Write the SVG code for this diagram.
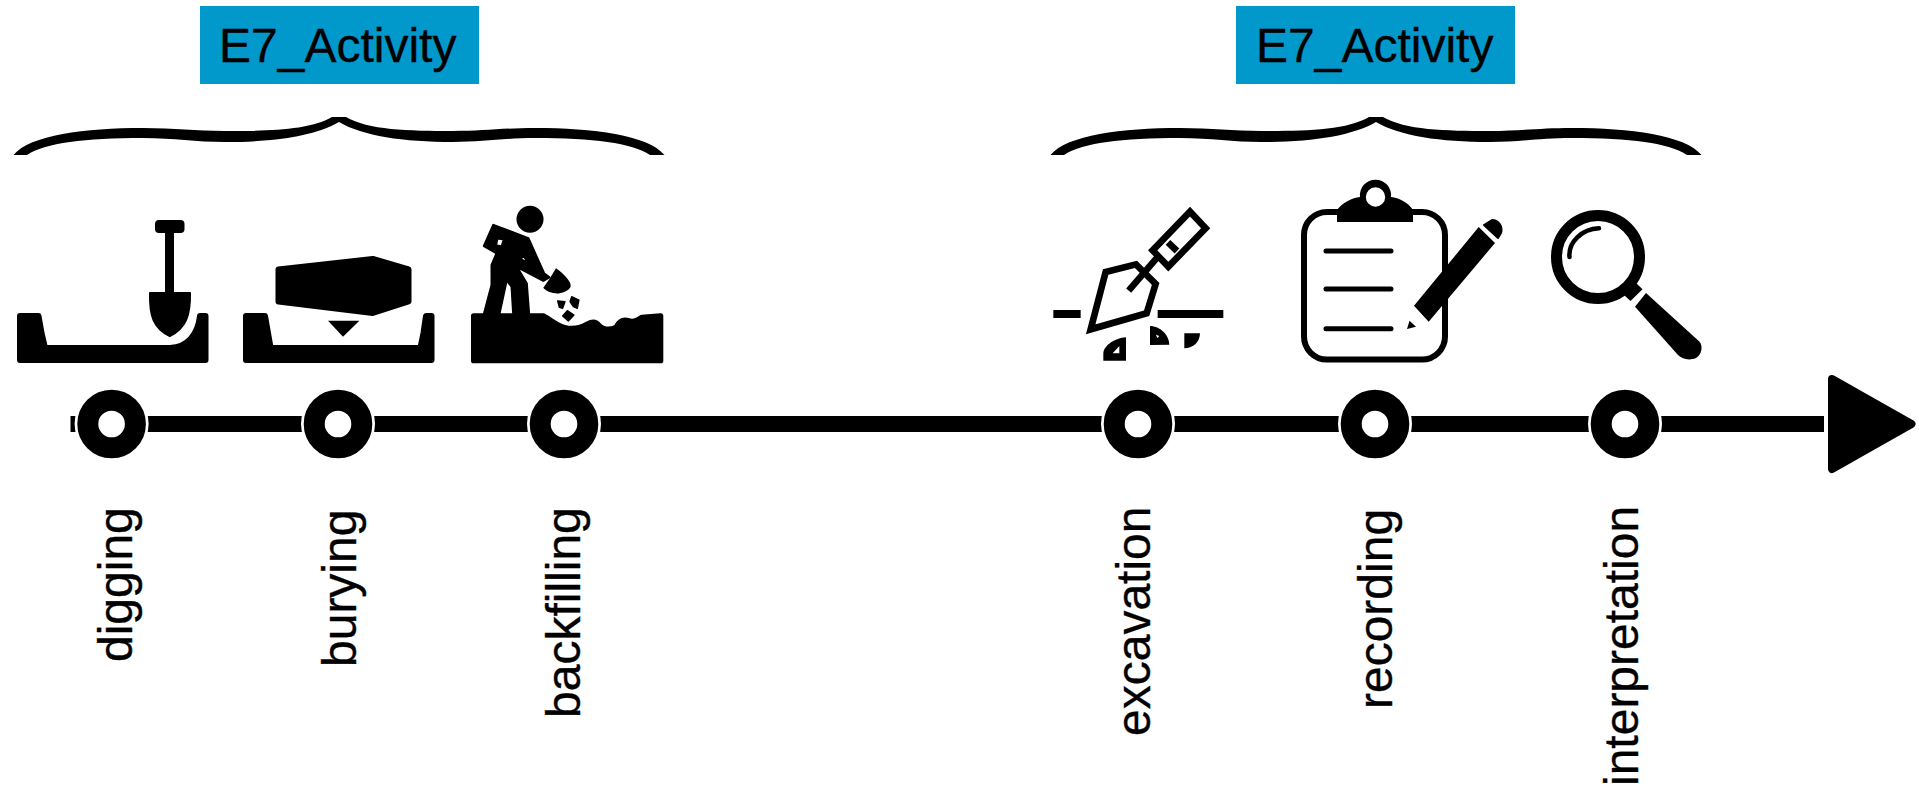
<svg xmlns="http://www.w3.org/2000/svg" width="1919" height="789" viewBox="0 0 1919 789">
<style>
text{font-family:"Liberation Sans",Arial,sans-serif;font-size:48px;fill:#000;stroke:#000;stroke-width:.35}
.band{fill:#0198cb}
.ic{fill:#000;stroke:#000;stroke-width:2;stroke-linejoin:round}
.blk{fill:#000;stroke:#000;stroke-width:6;stroke-linejoin:round}
.ln{fill:none;stroke:#000;stroke-linecap:butt;stroke-linejoin:miter;stroke-miterlimit:10}
.rd{fill:none;stroke:#000;stroke-linecap:round}
.timeline{stroke:#000;stroke-width:16;fill:none}
.ring{fill:#fff;stroke:#000;stroke-width:21}
.halo{fill:#fff}
</style>
<defs>
<path id="brace" d="M13.500 155C30 135 85 128 143 128C175 128 195 131 225 131C270 131 310 130 332 117L346 117C368 130 408 131 453 131C483 131 503 128 535 128C593 128 648 135 664.500 155L650 155C632 143 593 138 535 138C503 138 483 142 453 142C403 142 363 136 339 122C315 136 275 142 225 142C195 142 175 138 143 138C85 138 45 143 27 155Z"/>
<g id="dot"><circle r="37" class="halo"/><circle r="23.800" class="ring"/></g>
<marker id="head" markerUnits="userSpaceOnUse" markerWidth="88" markerHeight="100" viewBox="0 0 88 100" refX="-4" refY="50" orient="auto"><path d="M4 5L83.500 50L4 95Z" fill="#000" stroke="#000" stroke-width="8" stroke-linejoin="round"/></marker>
</defs>
<rect width="1919" height="789" fill="#fff"/>
<g id="connectors">
<line class="timeline" x1="70.500" y1="424" x2="1824" y2="424" marker-end="url(#head)"/>
</g>
<g id="group-left">
<rect class="band" x="200" y="6" width="279" height="78"/>
<text x="219" y="62">E7_Activity</text>
<use href="#brace"/>
</g>
<g id="group-right">
<rect class="band" x="1236" y="6" width="279" height="78"/>
<text x="1256" y="62">E7_Activity</text>
<use href="#brace" x="1037"/>
</g>
<g id="digging">
<path class="blk" d="M20 316L38.500 316L41.500 333L45 348L170 348C188 347 198 334 200 316L205.500 316L205.500 360L20 360Z"/>
<rect x="155" y="220" width="29.500" height="13" rx="4" fill="#000"/>
<rect x="165" y="232" width="9" height="60" fill="#000"/>
<path class="ic" d="M150 293L190 293C190.500 315 186 328 169.800 336C153 328 149.500 315 150 293Z"/>
<use href="#dot" x="111.600" y="424"/>
<text transform="translate(132 662) rotate(-90)">digging</text>
</g>
<g id="burying">
<path class="blk" d="M246 316L265 316L268 333L270.600 348L420.400 348L423.500 333L426 316L431.500 316L431.500 360L246 360Z"/>
<path class="blk" d="M278.500 269.500L372.800 259L408.500 269.500L408.500 301.500L372.800 313L278.500 301.500Z"/>
<path d="M328 320.700L359.400 320.700L343 336.700Z" fill="#000"/>
<use href="#dot" x="338" y="424"/>
<text transform="translate(356 667) rotate(-90)">burying</text>
</g>
<g id="backfilling">
<circle cx="530" cy="219.300" r="13.500" fill="#000"/>
<g transform="translate(460 190) scale(.3333)">
<path fill="#000" stroke="#000" stroke-width="16" stroke-linejoin="round" d="M41 378L250 378C275 390 295 412 325 415C350 417 370 410 382 402C395 395 408 395 416 405C430 420 450 420 468 412C478 392 490 388 505 392C520 398 532 392 545 382L602 378L602 512L41 512Z"/>
<path fill="#000" fill-rule="evenodd" stroke="#000" stroke-width="7" stroke-linejoin="round" d="M72 372L95 285L95 225L110 190L72 168L100 105L205 145L252 250L268 262L250 272L170 230L200 280L207 372L160 372L155 290L140 270L118 372ZM112 145L132 148L125 170L108 165ZM182 208L205 220L190 195Z"/>
<path fill="#000" d="M288 235C310 250 335 275 332 290C325 305 300 312 285 310C270 308 255 300 250 293L270 265Z"/>
<path fill="#000" stroke="#000" stroke-width="4" stroke-linejoin="round" d="M293 333L315 335L308 355L298 352ZM335 320L357 330L352 355L340 350L330 335ZM322 362L342 375L325 393L308 378Z"/>
</g>
<use href="#dot" x="564" y="424"/>
<text transform="translate(579.500 718) rotate(-90)">backfilling</text>
</g>
<g id="excavation">
<g transform="translate(1040 200) scale(.3333)">
<path fill="#000" d="M40 330H122V354H40ZM353 330H550V354H353Z"/>
<path class="ln" stroke-width="20" d="M152 388L197 216L288 193L347 252L320 340Z"/>
<path class="ln" stroke-width="20" d="M266 272L352 172"/>
<path class="ln" stroke-width="20" d="M338 151L450 35L497 85L385 200Z"/>
<path class="ln" stroke-width="20" d="M384 127L411 153"/>
<path fill="#000" fill-rule="evenodd" d="M190 482L190 460C192 436 225 414 258 412L258 482ZM218 460L238 460L238 438Z"/>
<path fill="#000" fill-rule="evenodd" d="M330 378C360 378 388 405 388 434L330 435ZM348 404L358 408L352 414Z"/>
<path fill="#000" d="M433 400L480 400C480 425 460 445 433 445Z"/>
</g>
<use href="#dot" x="1138" y="424"/>
<text transform="translate(1149.500 736) rotate(-90)">excavation</text>
</g>
<g id="recording">
<rect x="1304" y="212" width="141" height="147.500" rx="23" fill="none" stroke="#000" stroke-width="6"/>
<path fill="#000" fill-rule="evenodd" d="M1337 222L1337 210C1343 202 1352 198 1360 197A15.600 15.600 0 1 1 1391 197C1399 198 1408 202 1413 210L1413 222ZM1375.500 187.300A9.700 9.700 0 1 0 1375.500 206.700A9.700 9.700 0 1 0 1375.500 187.300Z"/>
<path class="rd" stroke-width="5" d="M1326 251H1391M1326 289H1391M1326 328.700H1391"/>
<path fill="#000" d="M1414 305.700L1478.700 227L1495 243L1428.700 321.700ZM1409.500 320.700L1416 326.700L1407 329Z"/>
<path class="ic" d="M1484 225L1492 220C1499 220 1503 227 1501 233L1498 238Z"/>
<use href="#dot" x="1375" y="424"/>
<text transform="translate(1392 709) rotate(-90)">recording</text>
</g>
<g id="interpretation">
<circle cx="1598" cy="257" r="41.500" fill="none" stroke="#000" stroke-width="11"/>
<path class="rd" stroke-width="4.500" d="M1569.500 257C1568 242 1582 229 1599 228.300"/>
<path fill="#000" d="M1636 283L1642.500 289.300L1630.500 301L1624 295Z"/>
<path fill="#000" d="M1646 293L1699.600 341.700C1703 346 1702 354 1696 358C1689 361 1682 359 1678 355L1635 306.700Z"/>
<use href="#dot" x="1625" y="424"/>
<text transform="translate(1637.500 786) rotate(-90)">interpretation</text>
</g>
</svg>
